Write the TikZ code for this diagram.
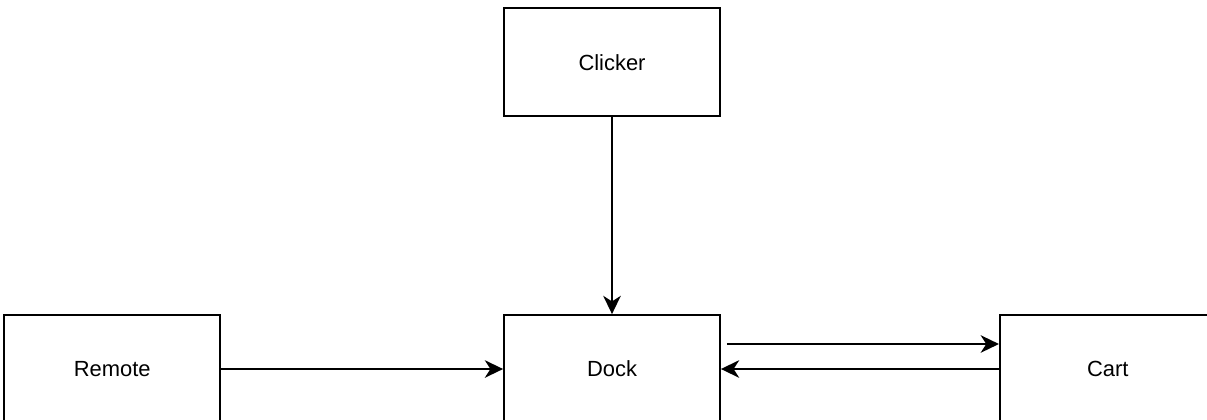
\documentclass[tikz,border=0pt]{standalone}
\usepackage{fontspec}
\setmainfont{Liberation Sans}
\usepackage{tikz}
\usetikzlibrary{arrows.meta,positioning}

\begin{document}
\begin{tikzpicture}[
        block/.style={draw, line width=1.3pt, minimum width=5.4cm, minimum height=2.7cm, inner sep=0pt,
          font=\fontsize{15.6}{18}\selectfont},
        link/.style={line width=1.3pt, -{Stealth[length=13pt, width=12.5pt, inset=4pt]}}]
        \useasboundingbox (0,0) rectangle (30.175,-10.475);

        \node[block] (dock) at (15.3,-9.225) {Dock};
        \node[block] (clicker) [above = 4.925cm of dock] {Clicker};
        \node[block] (remote) [left = 7.05cm of dock] {Remote};
        \node[block] (cart) [right = 6.95cm of dock] {Cart};

        \draw[link] (clicker) -- (dock);
        \draw[link] (remote) -- (dock);
        \draw[link] ([shift={(0.15cm,0.625cm)}]dock.east) -- ([yshift=0.625cm]cart.west);
        \draw[link] (cart.west) -- (dock.east);
  \end{tikzpicture}
\end{document}
